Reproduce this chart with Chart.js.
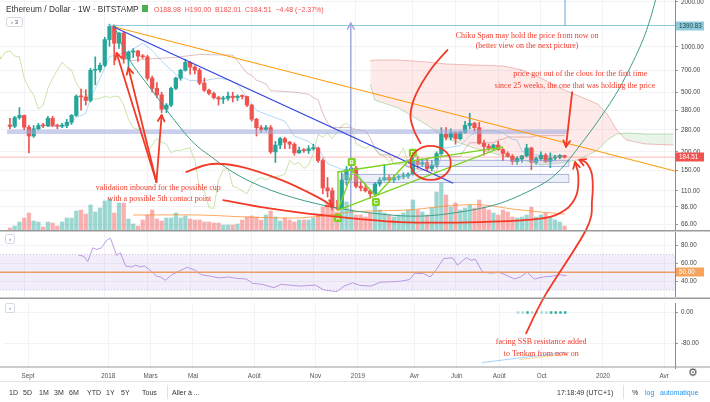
<!DOCTYPE html>
<html>
<head>
<meta charset="utf-8">
<title>ETH/USD 1W</title>
<script src="https://cdn.jsdelivr.net/npm/chart.js@4.4.1/dist/chart.umd.min.js"></script>
<style>
  body { margin: 0; background: #fff; }
  #wrap { position: relative; width: 710px; height: 402px; overflow: hidden; font-family: "Liberation Sans", Arial, sans-serif; color: #333; }
  #wrap canvas { position: absolute; left: 0; }
  .t { position: absolute; white-space: nowrap; line-height: 1; }
  .ft { position: absolute; top: 389px; font-size: 7px; color: #333; white-space: nowrap; }
  .sep { position: absolute; width: 1px; background: #e0e3eb; }
  .btn { position: absolute; border: 1px solid #d6d9e0; border-radius: 2px; font-size: 6px; color: #555; text-align: center; background: #fff; }
</style>
</head>
<body>
<div id="wrap">
  <canvas id="cMain" width="710" height="230" style="top:0"></canvas>
  <canvas id="cRsi" width="710" height="65" style="top:232px"></canvas>
  <canvas id="cOsc" width="710" height="83" style="top:299px"></canvas>
  <canvas id="ov" width="710" height="402" style="top:0"></canvas>

  <div class="t" style="left:6px;top:5px;font-size:8.3px;color:#333">Ethereum / Dollar · 1W · BITSTAMP</div>
  <div class="t" style="left:142px;top:5px;width:6px;height:7px;background:#4caf50"></div>
  <div class="t" style="left:154px;top:6px;font-size:7px;color:#ef5350">O188.98&nbsp; H190.00&nbsp; B182.01&nbsp; C184.51&nbsp; −4.48 (−2.37%)</div>
  <div class="btn" style="left:6px;top:17px;width:15px;height:8px;line-height:8px">› 3</div>
  <div class="btn" style="left:5px;top:234px;width:8px;height:8px;line-height:8px">›</div>
  <div class="btn" style="left:5px;top:303px;width:8px;height:8px;line-height:8px">›</div>

  <div style="position:absolute;left:0;top:381px;width:710px;height:1px;background:#e0e3eb"></div>
  <div class="ft" style="left:9px">1D</div>
  <div class="ft" style="left:23px">5D</div>
  <div class="ft" style="left:39px">1M</div>
  <div class="ft" style="left:54px">3M</div>
  <div class="ft" style="left:69px">6M</div>
  <div class="ft" style="left:87px">YTD</div>
  <div class="ft" style="left:106px">1Y</div>
  <div class="ft" style="left:121px">5Y</div>
  <div class="ft" style="left:142px">Tous</div>
  <div class="sep" style="left:167px;top:385px;height:14px"></div>
  <div class="ft" style="left:172px">Aller à ...</div>
  <div class="ft" style="left:557px">17:18:49 (UTC+1)</div>
  <div class="sep" style="left:623px;top:385px;height:14px"></div>
  <div class="ft" style="left:632px">%</div>
  <div class="ft" style="left:645px;color:#2196f3">log</div>
  <div class="ft" style="left:660px;color:#2196f3">automatique</div>
  <div class="t" style="left:688px;top:367px;font-size:11px;color:#555">⚙</div>
</div>

<script>
// weekly candles, Aug 2017 -> Nov 2019
const opens  = [302,296,338,350,292,255,285,300,298,335,300,297,300,315,350,470,465,440,700,705,
  755,1120,1370,1060,1240,830,925,940,870,860,620,530,480,385,410,530,620,700,790,735,
  700,575,515,490,460,450,455,470,460,470,468,410,330,290,282,290,200,222,245,232,
  225,197,205,204,210,212,175,115,110,85,84,130,152,156,118,115,110,105,122,130,
  135,130,135,137,138,142,175,165,170,155,163,195,262,250,268,245,270,300,310,290,
  228,218,211,222,207,195,187,172,180,188,212,170,180,190,172,182,184,188.98];
const highs  = [335,345,395,352,300,300,310,310,345,345,305,310,330,355,480,525,520,720,860,780,
  1160,1420,1400,1250,1250,940,975,950,890,880,640,580,500,420,540,630,710,830,800,750,
  720,620,525,500,470,470,500,500,480,480,470,415,335,300,300,300,235,250,250,235,
  230,215,210,220,225,215,180,135,115,95,145,160,162,160,128,122,112,125,135,165,
  140,140,140,145,145,185,185,180,180,175,200,290,290,285,272,275,320,362,315,315,
  240,225,225,235,210,200,192,185,190,225,215,185,200,195,197,190,192,190];
const lows   = [285,290,330,280,197,250,280,290,295,295,285,290,290,305,345,380,410,430,560,680,
  740,1010,760,980,780,700,850,800,840,600,500,460,365,365,400,520,600,690,660,660,
  560,505,480,450,410,420,440,430,440,450,400,320,255,270,275,195,170,210,210,210,
  190,195,198,195,205,170,105,100,82,82,84,120,130,115,110,108,98,102,118,128,
  125,125,130,132,133,140,155,160,150,150,158,190,240,240,225,240,265,285,275,225,
  190,205,205,205,175,185,165,165,170,185,152,165,175,170,157,175,180,182.01];
const closes = [296,338,350,292,255,285,300,298,335,300,297,300,315,350,470,465,440,700,705,755,
  1120,1370,1060,1240,830,925,940,870,860,620,530,480,385,410,530,620,700,790,735,700,
  575,515,490,460,450,455,470,460,470,468,410,330,290,282,290,200,222,245,232,225,
  197,205,204,210,212,175,115,110,85,84,130,152,156,118,115,110,105,122,130,135,
  130,135,137,138,142,175,165,170,155,163,195,262,250,268,245,270,300,310,290,228,
  218,211,222,207,195,187,172,180,188,212,170,180,190,172,182,184,189,184.51];
const volume = [2,4,8,12,17,9,8,3,8,7,4,8,12,12,19,20,16,25,18,22,
  29,31,17,27,27,11,6,4,10,15,20,11,9,12,12,17,12,14,11,10,
  10,8,8,7,7,5,5,5,6,10,13,14,13,10,15,19,13,9,12,10,
  8,10,10,10,12,15,23,27,22,18,20,28,20,15,15,13,17,27,20,17,
  15,13,15,17,20,30,20,18,15,22,38,47,35,23,27,20,22,25,22,30,
  23,20,17,15,20,18,13,12,13,15,23,13,15,17,13,10,8,4];

// moving average of volume, read at a few weeks
const volMaAt = [26,40,50,60,66,70,76,84,90,95,100,106,112,117];
const volMa   = [15,15,13,12,14,17,19,20,23,25,25,21,18,16];

// ichimoku, read at a few weeks
const tenkanAt = [8,12,14,16,17,18,20,21,22,25,28,30,32,35,38,41,44,46,48,50,52,55,58,60,63,65,67,70,73,75,77,79,82,85,88,90,91,93,95,97,99,102,104,106,107,108,110,113,117];
const tenkan   = [296,296,339,361,458,528,725,862,882,925,1060,950,807,657,597,597,620,605,565,462,377,347,320,255,235,210,167,153,148,122,122,131,131,143,155,165,211,215,220,256,276,276,268,242,240,202,193,188,188];
const kijunAt = [25,30,35,40,47,48,50,51,52,54,55,60,63,64,65,66,67,68,72,73,75,76,77,78,80,81,83,84,86,90,91,95,96,97,102,103,104,105,110,111,117];
const kijun   = [808,835,852,892,882,807,670,647,602,567,512,500,485,460,445,362,312,291,291,281,276,248,211,191,191,166,166,158,153,148,186,186,209,230,230,240,243,251,251,256,257];
const cloudAt = [76,77,82,88,92,98,104,108,112,116,120,124,126,128,130,134,140];
const spanA   = [566,443,392,302,247,212,188,177,164,169,177,206,240,263,267,263,263];
const spanB   = [808,819,819,794,770,758,747,703,621,533,471,417,357,280,240,226,222];

// RSI
const rsiAt = [14.5,15.6,16.4,17.5,18.3,19.3,20.4,21.2,22.5,23.3,24.4,25.7,26.5,27.5,28.4,29.9,30.9,31.8,32.8,34.1,
  35.5,37.4,38.9,40.4,42.3,44.2,46.1,48,49.8,51.3,53.2,55.7,57.2,59.5,61.4,64.4,66.2,67.7,69,70.5,
  72.3,73.8,76.1,78.2,80.5,82.4,84.3,85.4,87.3,88.7,90,91.5,93.4,94.4,96.3,97.2,98.2,99.7,101.6,103,
  104.5,106.4,107.7,109.1,110.6,112.5,114.4,115.9,117.4];
const rsi = [69.1,68,62,77.5,75.6,77.5,86,88.4,69,72,57,56,58,56,57,51,45.5,44.7,41,47,
  51,55.6,52.7,47.3,45.5,43.6,44.7,43,42.5,37.5,36.4,32.7,36.4,35.3,34.5,35.6,30.2,29,28.4,34.5,
  38.2,35.3,34.5,38.9,39.3,40,41.8,49,48.4,44.7,53.5,65.5,66.2,58,66.5,63.6,64.4,50.2,49,50.2,
  47.3,42.5,44.7,50.2,42.5,44.7,45.5,47.3,46.2];

// lower pane
const dotAt   = [107,108,109,110,111,112,113,114,115,116,117];
const dotDark = [0,0,1,0,0,0,0,1,1,1,1];
const oscBlueAt = [99.3,117.3],  oscBlue = [-130,-103];
const oscOrgAt  = [107.3,117.3], oscOrg  = [-122,-108];

// axes
const tickAt     = [3,20,29,38,51,64,73,85,94,103,112,125,138];
const tickLabels = ['Sept','2018','Mars','Mai','Août','Nov','2019','Avr','Juin','Août','Oct','2020','Avr'];
const priceTicks = [66,86,110,150,200,280,380,500,700,1000,2000];
const rsiTicks   = [40,60,80];
const oscTicks   = [-80,0];

const X_MIN = -2.1, X_MAX = 140.3;
const GREEN = '#26a69a', RED = '#ef5350';
const FONT = 'Liberation Sans';
Chart.defaults.font.family = FONT;

const idx = closes.map((c, i) => i);
const candleCol = idx.map(i => closes[i] >= opens[i] ? GREEN : RED);
const volCol = idx.map(i => closes[i] >= opens[i] ? 'rgba(38,166,154,0.45)' : 'rgba(239,83,80,0.45)');
const pts = (xs, ys) => xs.map((x, k) => ({ x: x, y: ys[k] }));

function xAxis(labels) {
  return {
    type: 'linear', min: X_MIN, max: X_MAX, offset: false,
    grid: { color: '#f1f3f7', drawTicks: false, offset: false },
    border: { display: false },
    afterBuildTicks: s => { s.ticks = tickAt.map(v => ({ value: v })); },
    ticks: { display: labels, autoSkip: false, maxRotation: 0, padding: 4, color: '#555',
      font: { size: 6.3 }, callback: (v, k) => tickLabels[k] },
    afterFit: s => { s.height = labels ? 14 : 0; s.paddingLeft = 0; s.paddingRight = 0; }
  };
}
function yAxis(extra, ticks) {
  return Object.assign({
    position: 'right',
    afterBuildTicks: s => { s.ticks = ticks.map(v => ({ value: v })); },
    ticks: { autoSkip: false, padding: 3, color: '#444', font: { size: 6.3 }, callback: v => v.toFixed(2) },
    grid: { color: '#f1f3f7', tickLength: 3, tickColor: '#999' },
    border: { color: '#8a8a8a' },
    afterFit: s => { s.width = 35; s.paddingTop = 0; s.paddingBottom = 0; }
  }, extra);
}
const base = {
  responsive: false, animation: false, events: [],
  layout: { padding: 0 },
  plugins: { legend: { display: false }, tooltip: { enabled: false } }
};
const thin = (data, color, extra) => Object.assign({ type: 'line', data: data, borderColor: color,
  borderWidth: 1, pointRadius: 0, fill: false, tension: 0 }, extra);

// ---- price pane ----
const mainChart = new Chart(document.getElementById('cMain'), {
  type: 'bar',
  data: { datasets: [
    thin(pts(cloudAt, spanA), 'rgba(102,187,106,0.45)', { order: 8,
      fill: { target: 1, above: 'rgba(76,175,80,0.13)', below: 'rgba(244,67,54,0.11)' } }),
    thin(pts(cloudAt, spanB), 'rgba(229,115,115,0.45)', { order: 8 }),
    thin(pts(kijunAt, kijun), 'rgba(176,96,96,0.4)', { order: 7 }),
    thin(pts(tenkanAt, tenkan), 'rgba(100,181,246,0.5)', { order: 7 }),
    thin(idx.map(i => ({ x: i - 26, y: closes[i] })), 'rgba(139,195,74,0.45)', { order: 7 }),
    { type: 'bar', yAxisID: 'yv', data: idx.map(i => ({ x: i, y: volume[i] })), backgroundColor: volCol,
      barThickness: 3.6, grouped: false, order: 9 },
    thin(pts(volMaAt, volMa), 'rgba(255,138,40,0.75)', { yAxisID: 'yv', order: 6, tension: 0.3 }),
    { type: 'bar', data: idx.map(i => ({ x: i, y: [lows[i], highs[i]] })), backgroundColor: candleCol,
      barThickness: 1, grouped: false, order: 1 },
    { type: 'bar', data: idx.map(i => ({ x: i, y: [opens[i], closes[i]] })), backgroundColor: candleCol,
      barThickness: 3.6, grouped: false, minBarLength: 1, order: 0 }
  ] },
  options: Object.assign({}, base, { scales: {
    x: xAxis(false),
    y: yAxis({ type: 'logarithmic', min: 60.3, max: 2057 }, priceTicks),
    yv: { display: false, min: 0, max: 230 }
  } })
});

// ---- RSI pane ----
const rsiChart = new Chart(document.getElementById('cRsi'), {
  type: 'line',
  data: { datasets: [
    thin([{ x: X_MIN, y: 70 }, { x: X_MAX, y: 70 }], 'rgba(149,117,205,0.45)',
      { borderDash: [1, 2], fill: '+1', backgroundColor: 'rgba(149,117,205,0.12)' }),
    thin([{ x: X_MIN, y: 30 }, { x: X_MAX, y: 30 }], 'rgba(149,117,205,0.45)', { borderDash: [1, 2] }),
    thin([{ x: X_MIN, y: 50 }, { x: X_MAX, y: 50 }], '#f7a35c', { borderWidth: 1.5 }),
    thin(pts(rsiAt, rsi), '#c09ce6')
  ] },
  options: Object.assign({}, base, { scales: {
    x: xAxis(false),
    y: yAxis({ type: 'linear', min: 22.2, max: 95.3 }, rsiTicks)
  } })
});

// ---- lower pane ----
const oscChart = new Chart(document.getElementById('cOsc'), {
  type: 'line',
  data: { datasets: [
    thin(pts(oscBlueAt, oscBlue), 'rgba(100,181,246,0.6)'),
    thin(pts(oscOrgAt, oscOrg), 'rgba(255,167,38,0.5)'),
    { type: 'line', showLine: false, data: dotAt.map(x => ({ x: x, y: 0 })), pointStyle: 'rect',
      pointRadius: 1.8, borderWidth: 0,
      pointBackgroundColor: dotDark.map(d => d ? 'rgba(38,166,154,0.9)' : 'rgba(38,166,154,0.35)') }
  ] },
  options: Object.assign({}, base, { scales: {
    x: xAxis(true),
    y: yAxis({ type: 'linear', min: -144, max: 24.7 }, oscTicks)
  } })
});

// ---- drawings on top of the panes ----
const ctx = document.getElementById('ov').getContext('2d');
const panes = { m: [mainChart, 0], r: [rsiChart, 232], o: [oscChart, 299] };
function P(p) {
  const pane = panes[p[2] || 'm'];
  return [pane[0].scales.x.getPixelForValue(p[0]), pane[1] + pane[0].scales.y.getPixelForValue(p[1])];
}
function path(q, smooth) {
  ctx.beginPath();
  ctx.moveTo(q[0][0], q[0][1]);
  for (let k = 0; k < q.length - 1; k++) {
    const a = q[k - 1] || q[k], b = q[k], c = q[k + 1], d = q[k + 2] || c;
    if (!smooth) { ctx.lineTo(c[0], c[1]); continue; }
    ctx.bezierCurveTo(b[0] + (c[0] - a[0]) / 6, b[1] + (c[1] - a[1]) / 6,
                      c[0] - (d[0] - b[0]) / 6, c[1] - (d[1] - b[1]) / 6, c[0], c[1]);
  }
}
function head(a, b, len) {
  const ang = Math.atan2(b[1] - a[1], b[0] - a[0]);
  ctx.beginPath();
  ctx.moveTo(b[0] - len * Math.cos(ang - 0.5), b[1] - len * Math.sin(ang - 0.5));
  ctx.lineTo(b[0], b[1]);
  ctx.lineTo(b[0] - len * Math.cos(ang + 0.5), b[1] - len * Math.sin(ang + 0.5));
  ctx.stroke();
}
function draw(list, color, w, o) {
  o = o || {};
  const q = list.map(P);
  ctx.save();
  ctx.strokeStyle = color; ctx.lineWidth = w; ctx.lineCap = 'round'; ctx.lineJoin = 'round';
  if (o.dash) ctx.setLineDash(o.dash);
  path(q, o.smooth);
  ctx.stroke();
  ctx.setLineDash([]);
  if (o.arrow) head(q[q.length - 2], q[q.length - 1], o.arrow);
  ctx.restore();
}
function box(i0, i1, p0, p1, fill, stroke) {
  const a = P([i0, p1]), b = P([i1, p0]);
  ctx.fillStyle = fill;
  ctx.fillRect(a[0], a[1], b[0] - a[0], b[1] - a[1]);
  if (stroke) { ctx.strokeStyle = stroke; ctx.lineWidth = 1; ctx.strokeRect(a[0] + 0.5, a[1] + 0.5, b[0] - a[0], b[1] - a[1]); }
}
function note(txt, i, v, pane) {
  const q = P([i, v, pane]);
  ctx.fillStyle = '#f03b2b';
  ctx.font = '8px "Liberation Serif"';
  ctx.textAlign = 'center'; ctx.textBaseline = 'middle';
  ctx.fillText(txt, q[0], q[1]);
}
function tag(txt, v, pane, bg, fg) {
  const q = P([X_MAX, v, pane]);
  ctx.fillStyle = bg;
  ctx.fillRect(676, Math.round(q[1]) - 4.5, 28, 9);
  ctx.fillStyle = fg;
  ctx.font = '6.3px ' + FONT;
  ctx.textAlign = 'left'; ctx.textBaseline = 'middle';
  ctx.fillText(txt, 679, Math.round(q[1]));
}
function tagText(txt, i, v) {
  const q = P([i, v]);
  ctx.fillStyle = '#7ed321';
  ctx.beginPath(); ctx.roundRect(q[0] - 4, q[1] - 4, 8, 8, 1.5); ctx.fill();
  ctx.fillStyle = '#fff'; ctx.font = 'bold 6px ' + FONT;
  ctx.textAlign = 'center'; ctx.textBaseline = 'middle';
  ctx.fillText(txt, q[0], q[1] + 0.5);
}

const lastClose = closes[closes.length - 1];
const topLevel = 1390.83;

ctx.save();
ctx.beginPath(); ctx.rect(0, 0, 675, 230); ctx.clip();
// zones
box(-0.6, 117.8, 263, 282, 'rgba(159,168,218,0.55)');
box(83.5, 117.8, 161, 177, 'rgba(197,202,233,0.3)', 'rgba(121,134,203,0.6)');
box(70.2, 117.8, 126, 142.6, 'rgba(197,202,233,0.3)', 'rgba(121,134,203,0.6)');
// price line
draw([[X_MIN, lastClose], [X_MAX, lastClose]], 'rgba(239,83,80,0.4)', 1);
// levels and trend lines
draw([[21, topLevel], [X_MAX, topLevel]], '#8ccbe0', 1);
draw([[117.1, topLevel], [117.1, 2100]], '#6aa9d8', 1);
draw([[71.9, 79.4], [71.9, 1444]], '#9fa8da', 1.5, { arrow: 7 });
draw([[22.1, 1360], [X_MAX, 149]], '#ff9800', 1);
draw([[21.9, 1359], [93.4, 124]], '#3344dd', 1.3);
draw([[21.9,1402],[25.0,845],[29.9,517],[37.6,251],[42.5,185],[48.8,136],[57.2,105],[67.7,86],[78.2,77],
      [86.6,74.6],[95.1,79.6],[103.5,91],[111.9,120],[116.1,152],[120.3,222],[124.5,336],[128.7,541],
      [132.9,1000],[135.0,1514],[136.6,2300]], '#3f9c86', 1, { smooth: true });
// pattern
const LIME = '#7ed321';
draw([[69.2, 147], [69.2, 81.9]], LIME, 1.4);
draw([[69.2, 147], [103.9, 215]], LIME, 1.4);
draw([[69.2, 81.9], [103.9, 215]], LIME, 1.4);
draw([[69.2, 81.9], [72.3, 149], [77.2, 101.5], [85, 188]], LIME, 1.4);
tagText('A', 69.2, 72.4); tagText('B', 72.1, 171); tagText('C', 77.2, 92.6); tagText('D', 85, 197);
// red remarks
const R = '#f23a27';
draw([[30.9, 126], [22.5, 912]], R, 1.8, { arrow: 7 });
draw([[30.9, 126], [25, 725]], R, 1.8, { arrow: 7 });
draw([[30.9, 126], [32, 352]], R, 1.8, { arrow: 7 });
draw([[37.2,147],[42.5,166],[48.8,159],[57.2,130],[64.6,101],[68.1,86.7]], R, 1.8, { smooth: true, arrow: 7 });
draw([[45,95.5],[53,85.8],[65.6,75.9],[82.4,68.1],[99.3,68.1],[111.9,71.7],[117.1,81.9],[119.5,103],
      [119.9,140],[119.2,171]], R, 1.8, { smooth: true, arrow: 7 });
draw([[92.3,955],[88.7,703],[85.6,479],[84.5,352],[85.2,280],[86.6,229]], R, 1.8, { smooth: true });
draw([[118.6, 500], [117.3, 216]], R, 1.8, { arrow: 7 });
{
  const a = P([84.5, 219]), b = P([93, 130]);
  ctx.strokeStyle = R; ctx.lineWidth = 1.8;
  ctx.beginPath();
  ctx.ellipse((a[0] + b[0]) / 2, (a[1] + b[1]) / 2, (b[0] - a[0]) / 2, (b[1] - a[1]) / 2, 0, 0, Math.PI * 2);
  ctx.stroke();
}
note('Chiku Span may hold the price from now on', 109.1, 1184);
note('(better view on the next picture)', 109.1, 1015);
note('price got out of the clous for the first time', 120.3, 661);
note('since 25 weeks, the one that was holding the price', 119.2, 550);
note('validation inbound for the possible cup', 31.3, 115);
note('with a possible 5th contact point', 31.5, 97);
ctx.restore();

// line crossing the panes
draw([[108.7, -54, 'o'], [112.9, 24, 'r'], [121.6, 61], [122.8, 95.5], [122.8, 140], [121.6, 169], [120.1, 177]],
     R, 1.8, { smooth: true, arrow: 7 });
note('facing SSB resistance added', 111.9, -76.5, 'o');
note('to Tenkan from now on', 111.9, -108.6, 'o');

// pane borders
ctx.fillStyle = '#9a9a9a';
ctx.fillRect(0, 230, 710, 1.5);
ctx.fillRect(0, 297.5, 710, 1.5);
ctx.fillRect(0, 366.5, 710, 1);

// value tags on the price axis
tag(topLevel.toFixed(2), topLevel, 'm', '#8fcbdb', '#1d3d46');
tag(lastClose.toFixed(2), lastClose, 'm', RED, '#fff');
tag('50.00', 50, 'r', '#f7a35c', '#fff');
</script>
</body>
</html>
